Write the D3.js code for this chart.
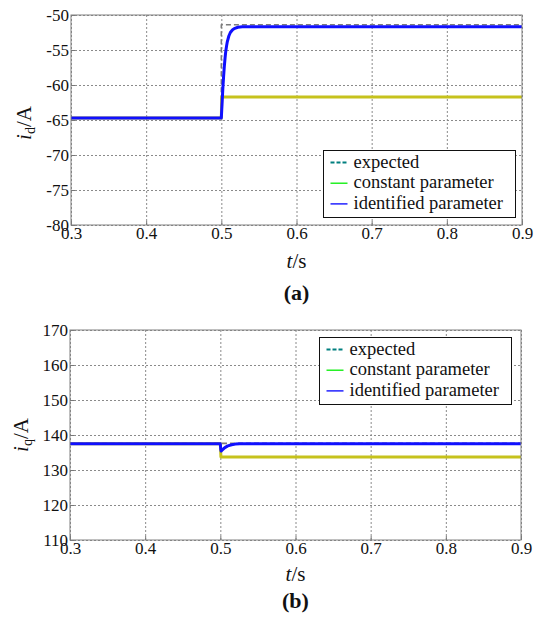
<!DOCTYPE html>
<html>
<head>
<meta charset="utf-8">
<script src="https://cdn.jsdelivr.net/npm/d3@7"></script>
<style>
  html, body { margin: 0; padding: 0; background: #fff; }
  svg { display: block; }
  svg text { font-family: "Liberation Serif", "Times New Roman", Times, Tinos, "Nimbus Roman", "Nimbus Roman No9 L", "FreeSerif", "Noto Serif", "DejaVu Serif", serif !important; fill: #111; }
</style>
</head>
<body>
<svg id="chart" width="535" height="621"></svg>
<script>
// Time axis and tick values
const tDomain = [0.3, 0.9];
const tTicks = [0.3, 0.4, 0.5, 0.6, 0.7, 0.8, 0.9];
const idDomain = [-80, -50];
const idTicks = [-80, -75, -70, -65, -60, -55, -50];
const iqDomain = [110, 170];
const iqTicks = [110, 120, 130, 140, 150, 160, 170];

// d-axis current (t in s, i_d in A)
const idExpected = [[0.3, -64.7], [0.5, -64.7], [0.5, -51.4], [0.9, -51.4]];
const idConstant = [[0.3, -64.7], [0.5, -64.7], [0.5005, -61.7], [0.9, -61.7]];
const idIdentified = [
  [0.3, -64.7], [0.5, -64.7], [0.501, -62.6], [0.502, -60.5], [0.503, -58.8],
  [0.504, -57.3], [0.505, -56.1], [0.506, -55.1], [0.507, -54.4], [0.508, -53.8],
  [0.510, -53.0], [0.512, -52.5], [0.515, -52.1], [0.518, -51.9], [0.522, -51.75],
  [0.528, -51.67], [0.9, -51.67]
];

// q-axis current (t in s, i_q in A)
const iqExpected = [[0.3, 137.6], [0.9, 137.6]];
const iqConstant = [[0.3, 137.5], [0.5, 137.5], [0.5008, 133.7], [0.9, 133.7]];
const iqIdentified = [
  [0.3, 137.5], [0.5, 137.5], [0.5005, 136.0], [0.501, 135.4], [0.503, 135.8],
  [0.506, 136.4], [0.510, 136.9], [0.515, 137.2], [0.520, 137.4], [0.526, 137.5],
  [0.9, 137.5]
];

const legendLabels = ["expected", "constant parameter", "identified parameter"];

const serif = "'Liberation Serif', 'Times New Roman', Times, Tinos, 'Nimbus Roman', 'FreeSerif', 'Noto Serif', 'DejaVu Serif', serif";
const svg = d3.select("#chart").style("font-family", serif);

function panel(opts) {
  const { box, yDomain, yTicks, series, legend, yLabelSub, yLabelPos, tLabelY, capY, cap } = opts;
  const x = d3.scaleLinear().domain(tDomain).range([box.left, box.right]);
  const y = d3.scaleLinear().domain(yDomain).range([box.bottom, box.top]);
  const w = box.right - box.left, h = box.bottom - box.top;
  const g = svg.append("g");

  // plot background
  g.append("rect").attr("x", box.left).attr("y", box.top)
    .attr("width", w).attr("height", h).attr("fill", "#fff");

  // dotted grid
  const gx = g.append("g").attr("transform", `translate(0,${box.bottom})`)
    .call(d3.axisBottom(x).tickValues(tTicks).tickSize(-h).tickFormat(""));
  const gy = g.append("g").attr("transform", `translate(${box.left},0)`)
    .call(d3.axisLeft(y).tickValues(yTicks).tickSize(-w).tickFormat(""));
  [gx, gy].forEach(s => {
    s.select(".domain").remove();
    s.selectAll("line").attr("stroke", "#8a8a8a").attr("stroke-width", 1)
      .attr("stroke-dasharray", "2,2");
  });

  // data lines
  const clipId = "clip" + Math.round(box.top);
  svg.append("defs").append("clipPath").attr("id", clipId)
    .append("rect").attr("x", box.left).attr("y", box.top).attr("width", w).attr("height", h);
  const line = d3.line().x(d => x(d[0])).y(d => y(d[1]));
  const lines = g.append("g").attr("clip-path", `url(#${clipId})`);
  series.forEach(s => {
    lines.append("path").datum(s.data).attr("d", line)
      .attr("fill", "none").attr("stroke", s.color).attr("stroke-width", s.width)
      .attr("stroke-dasharray", s.dash || null).attr("stroke-linejoin", "round");
  });

  // axes with inward ticks
  const ax = g.append("g").attr("transform", `translate(0,${box.bottom})`)
    .call(d3.axisBottom(x).tickValues(tTicks).tickSizeInner(-4).tickSizeOuter(0)
      .tickPadding(4).tickFormat(d3.format(".1f")));
  const ay = g.append("g").attr("transform", `translate(${box.left},0)`)
    .call(d3.axisLeft(y).tickValues(yTicks).tickSizeInner(-4).tickSizeOuter(0)
      .tickPadding(2).tickFormat(d => d < 0 ? "-" + Math.abs(d) : d));
  [ax, ay].forEach(s => {
    s.attr("font-family", null);
    s.select(".domain").remove();
    s.selectAll("line").attr("stroke", "#777");
    s.selectAll("text").attr("font-size", 17).attr("fill", "#111");
  });
  ax.selectAll("text").attr("dy", "0.6em");

  // frame
  g.append("rect").attr("x", box.left).attr("y", box.top)
    .attr("width", w).attr("height", h).attr("fill", "none")
    .attr("stroke", "#808080").attr("stroke-width", 1);

  // legend
  const lg = g.append("g");
  lg.append("rect").attr("x", legend.x).attr("y", legend.y)
    .attr("width", legend.w).attr("height", legend.h)
    .attr("fill", "#fff").attr("stroke", "#111").attr("stroke-width", 1);
  legend.items.forEach((it, i) => {
    const by = legend.y + legend.first + i * legend.step;
    lg.append("line").attr("x1", legend.x + 7).attr("x2", legend.x + 24)
      .attr("y1", by - 5).attr("y2", by - 5)
      .attr("stroke", it.color).attr("stroke-width", it.dash ? 2 : 1.3)
      .attr("stroke-dasharray", it.dash || null);
    lg.append("text").attr("x", legend.x + 30).attr("y", by)
      .attr("font-size", 18.5).text(legendLabels[i]);
  });

  // y-axis title: i_d/A or i_q/A
  const yt = g.append("text")
    .attr("transform", `translate(${yLabelPos[0]},${yLabelPos[1]}) rotate(-90)`)
    .attr("text-anchor", "middle").attr("font-size", 21);
  yt.append("tspan").attr("font-style", "italic").text("i");
  yt.append("tspan").attr("font-size", 14).attr("dy", 4).text(yLabelSub);
  yt.append("tspan").attr("dy", -4).text("/A");

  // x-axis title: t/s
  const xt = g.append("text").attr("x", (box.left + box.right) / 2).attr("y", tLabelY)
    .attr("text-anchor", "middle").attr("font-size", 21);
  xt.append("tspan").attr("font-style", "italic").text("t");
  xt.append("tspan").text("/s");

  // panel caption
  g.append("text").attr("x", (box.left + box.right) / 2).attr("y", capY)
    .attr("text-anchor", "middle").attr("font-size", 22).attr("font-weight", "bold")
    .text(cap);
}

const gray = "#7d7d7d", yellow = "#c6c21c", blue = "#1010ff";
const legendItems = [
  { color: "#007f7f", dash: "4,2" },
  { color: "#00ee00" },
  { color: "#0000ff" }
];

panel({
  box: { left: 71, right: 522, top: 15, bottom: 225 },
  yDomain: idDomain, yTicks: idTicks,
  series: [
    { data: idExpected, color: gray, width: 1.6, dash: "5,3" },
    { data: idConstant, color: yellow, width: 3 },
    { data: idIdentified, color: blue, width: 3 }
  ],
  legend: { x: 323.5, y: 150.5, w: 192, h: 67, first: 17, step: 20.7, items: legendItems },
  yLabelSub: "d", yLabelPos: [31, 123], tLabelY: 268, capY: 300, cap: "(a)"
});

panel({
  box: { left: 70, right: 521, top: 330, bottom: 540 },
  yDomain: iqDomain, yTicks: iqTicks,
  series: [
    { data: iqExpected, color: gray, width: 1.6, dash: "5,3" },
    { data: iqConstant, color: yellow, width: 3 },
    { data: iqIdentified, color: blue, width: 3 }
  ],
  legend: { x: 319.5, y: 337.5, w: 192, h: 67, first: 17, step: 20.7, items: legendItems },
  yLabelSub: "q", yLabelPos: [28, 435], tLabelY: 581, capY: 608, cap: "(b)"
});
</script>
</body>
</html>
